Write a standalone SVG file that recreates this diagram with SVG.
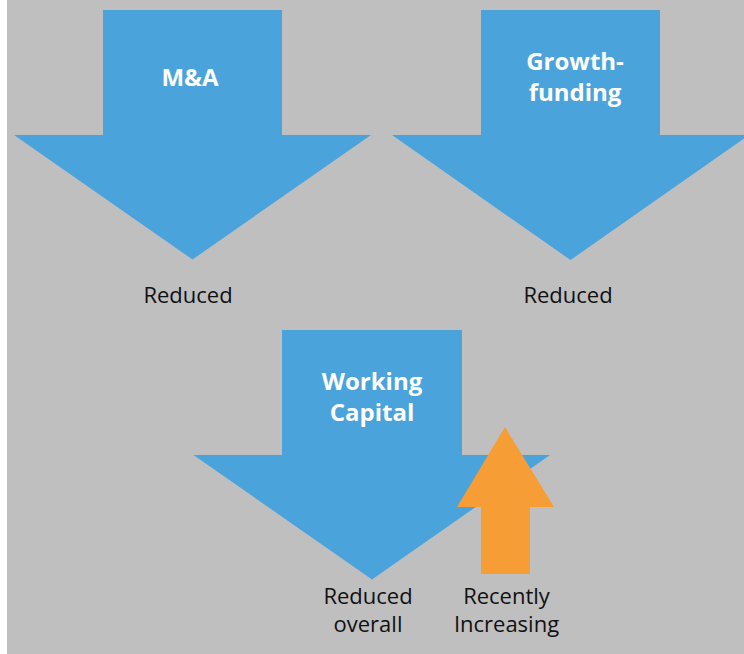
<svg xmlns="http://www.w3.org/2000/svg" width="744" height="654" viewBox="0 0 744 654">
  <style>
    .down { fill: #4aa3db; }
    .up { fill: #f79d35; }
    .title { font-family: "Open Sans", "DejaVu Sans", sans-serif; font-size: 24px; font-weight: bold; fill: #ffffff; text-anchor: middle; }
    .note { font-family: "Open Sans", "DejaVu Sans", sans-serif; font-size: 22px; fill: #111111; text-anchor: middle; }
  </style>
  <rect x="0" y="0" width="744" height="654" fill="#ffffff"/>
  <rect x="7" y="0" width="737" height="654" fill="#bfbfbf"/>

  <g id="ma">
    <polygon class="down" points="103,10 282,10 282,135 371,135 192.5,259.5 14,135 103,135"/>
    <text class="title" x="190" y="86">M&amp;A</text>
    <text class="note" x="188" y="303">Reduced</text>
  </g>

  <g id="growth">
    <polygon class="down" points="481,10 660,10 660,135 749,135 570.5,260 392,135 481,135"/>
    <text class="title" x="575" y="70">Growth-</text>
    <text class="title" x="575" y="101">funding</text>
    <text class="note" x="568" y="303">Reduced</text>
  </g>

  <g id="working-capital">
    <polygon class="down" points="282,330 462,330 462,455 550,455 372,579.5 193.5,455 282,455"/>
    <text class="title" x="372" y="390">Working</text>
    <text class="title" x="372" y="421">Capital</text>
    <text class="note" x="368" y="604">Reduced</text>
    <text class="note" x="368" y="632">overall</text>
  </g>

  <g id="recent">
    <polygon class="up" points="505,427 554,507 530,507 530,574 481,574 481,507 457,507"/>
    <text class="note" x="506.5" y="604">Recently</text>
    <text class="note" x="506.5" y="632">Increasing</text>
  </g>

  <g id="connectors"/>
</svg>
